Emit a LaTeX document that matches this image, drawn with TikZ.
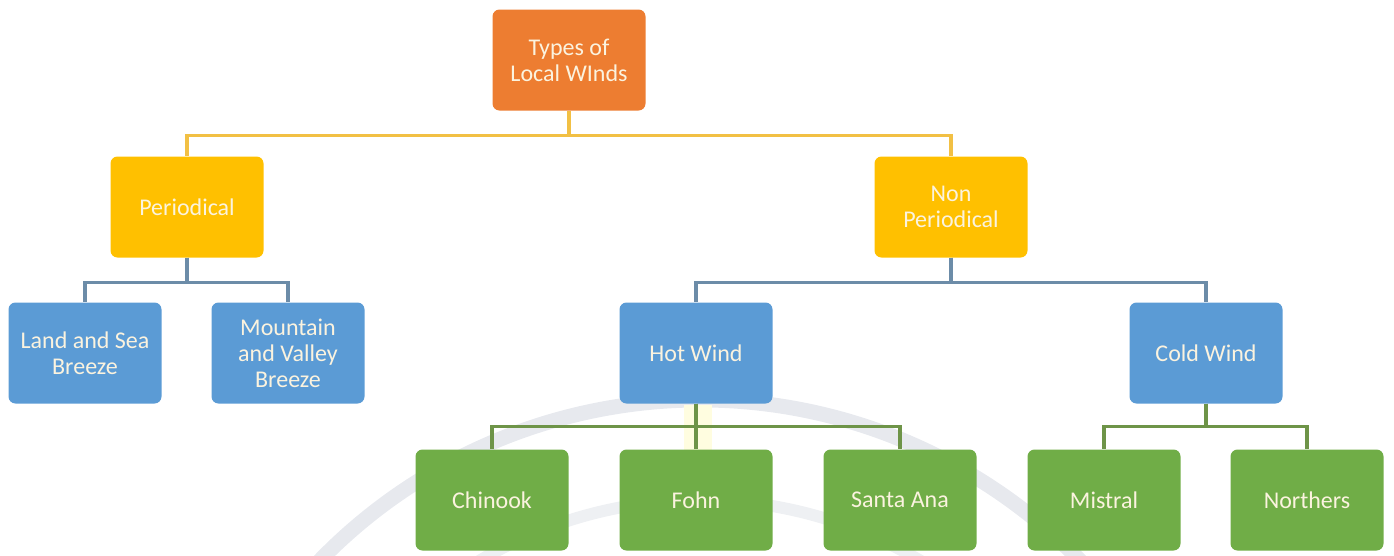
\documentclass[tikz,border=0pt]{standalone}
\usepackage{fontspec}
\setmainfont{Carlito}
\definecolor{rootfill}{HTML}{ED7D31}
\definecolor{goldfill}{HTML}{FFC000}
\definecolor{bluefill}{HTML}{5B9BD5}
\definecolor{greenfill}{HTML}{70AD47}
\definecolor{goldline}{HTML}{F2C044}
\definecolor{blueline}{HTML}{6C8CA8}
\definecolor{greenline}{HTML}{6E9448}
\definecolor{labeltext}{HTML}{FBF3DF}
\definecolor{arcgrey}{HTML}{E7E9EE}
\tikzset{
  box/.style={rounded corners=7pt, minimum width=153pt, minimum height=101pt,
    align=center, text=labeltext, font=\fontsize{24}{26}\selectfont, inner sep=2pt},
  rootbox/.style={box, fill=rootfill},
  goldbox/.style={box, fill=goldfill},
  bluebox/.style={box, fill=bluefill},
  greenbox/.style={box, fill=greenfill},
  link/.style={line width=3.2pt},
  goldlink/.style={link, draw=goldline},
  bluelink/.style={link, draw=blueline},
  greenlink/.style={link, draw=greenline},
}
\begin{document}
\begin{tikzpicture}[x=1pt, y=-1pt]
\useasboundingbox (0,0) rectangle (1394,555);
% faint background arcs
\draw[arcgrey, line width=15pt] (700,930) ++(212:530) arc[start angle=212, end angle=328, radius=530];
\draw[arcgrey!70, line width=12pt] (700,930) ++(210:430) arc[start angle=210, end angle=330, radius=430];
\fill[yellow!12] (684,405) rectangle (712,455);

% tree nodes
\node[rootbox]  (root) at (569,60)  {Types of\\Local WInds};
\node[goldbox]  (per)  at (187,207) {Periodical};
\node[goldbox]  (non)  at (951,207) {Non\\Periodical};
\node[bluebox]  (land) at (85,353)  {Land and Sea\\Breeze};
\node[bluebox]  (mtn)  at (288,353) {Mountain\\and Valley\\Breeze};
\node[bluebox]  (hot)  at (696,353) {Hot Wind};
\node[bluebox]  (cold) at (1206,353) {Cold Wind};
\node[greenbox] (chin) at (492,500) {Chinook};
\node[greenbox] (fohn) at (696,500) {Fohn};
\node[greenbox] (santa) at (900,500) {Santa Ana};
\node[greenbox] (mist) at (1104,500) {Mistral};
\node[greenbox] (north) at (1307,500) {Northers};

% connectors
\foreach \c in {per,non} \draw[goldlink] (root.south) -- ++(0,25) -| (\c.north);
\foreach \c in {land,mtn} \draw[bluelink] (per.south) -- ++(0,25) -| (\c.north);
\foreach \c in {hot,cold} \draw[bluelink] (non.south) -- ++(0,25) -| (\c.north);
\foreach \c in {chin,fohn,santa} \draw[greenlink] (hot.south) -- ++(0,23) -| (\c.north);
\foreach \c in {mist,north} \draw[greenlink] (cold.south) -- ++(0,23) -| (\c.north);
\end{tikzpicture}
\end{document}
